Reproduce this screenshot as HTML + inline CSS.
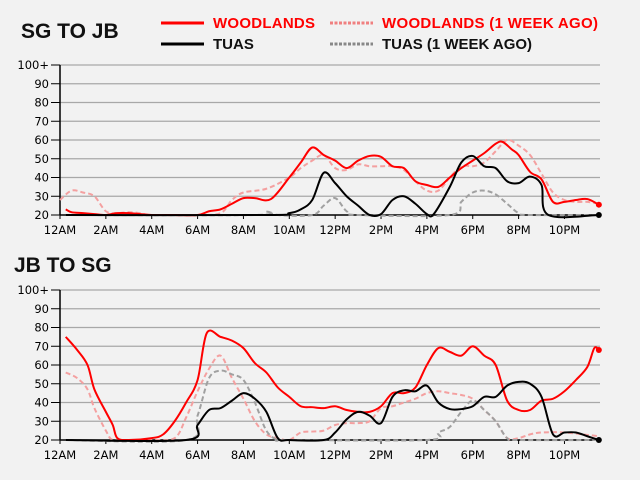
<!DOCTYPE html>
<html><head><meta charset="utf-8"><style>
html,body{margin:0;padding:0;background:#f2f2f2;}
svg{display:block;}
text{font-family:"DejaVu Sans",sans-serif;}
.t{font-family:"Liberation Sans",sans-serif;font-weight:bold;}
</style></head><body>
<svg id="s" width="640" height="480" xmlns="http://www.w3.org/2000/svg">
<rect width="640" height="480" fill="#f2f2f2"/>
<text class="t" x="21" y="38" font-size="21" fill="#111">SG TO JB</text>
<text class="t" x="14" y="272" font-size="21" fill="#111">JB TO SG</text>
<line x1="161" y1="23" x2="204" y2="23" stroke="#f00" stroke-width="3"/>
<text class="t" x="213" y="28" font-size="15" fill="#f00" textLength="102">WOODLANDS</text>
<line x1="330" y1="23" x2="373" y2="23" stroke="#f08080" stroke-width="3" stroke-dasharray="3,1.5"/>
<text class="t" x="382" y="28" font-size="15" fill="#f00" textLength="216">WOODLANDS (1 WEEK AGO)</text>
<line x1="161" y1="44" x2="204" y2="44" stroke="#000" stroke-width="3"/>
<text class="t" x="213" y="49" font-size="15" fill="#111">TUAS</text>
<line x1="330" y1="44" x2="373" y2="44" stroke="#888" stroke-width="3" stroke-dasharray="3,1.5"/>
<text class="t" x="382" y="49" font-size="15" fill="#111" textLength="150">TUAS (1 WEEK AGO)</text>
<g id="g"></g>
</svg>
<script>
var NS="http://www.w3.org/2000/svg",g=document.getElementById("g");
function el(n,a,t){var e=document.createElementNS(NS,n);for(var k in a)e.setAttribute(k,a[k]);if(t)e.textContent=t;g.appendChild(e);return e;}
function X(h){return 60+22.93*h;}
function chart(off,series){
 function Y(v){return off-1.875*(v-20);}
 for(var v=30;v<=100;v+=10) el("line",{x1:60,x2:600,y1:Y(v),y2:Y(v),stroke:"#a8a8a8","stroke-width":1.2});
 for(var v=20;v<=100;v+=10){el("line",{x1:51,x2:60,y1:Y(v),y2:Y(v),stroke:"#000"});el("text",{x:49,y:Y(v)+4,"font-size":11.5,"text-anchor":"end",fill:"#000"},v==100?"100+":""+v);}
 var labs=["12AM","2AM","4AM","6AM","8AM","10AM","12PM","2PM","4PM","6PM","8PM","10PM"];
 for(var i=0;i<12;i++){el("line",{x1:X(i*2),x2:X(i*2),y1:off,y2:off+4,stroke:"#000"});el("text",{x:X(i*2),y:off+19,"font-size":11.5,"text-anchor":"middle",fill:"#000"},labs[i]);}
 el("line",{x1:60,x2:60,y1:Y(100),y2:off,stroke:"#000","stroke-width":1.5});
 el("line",{x1:60,x2:600,y1:off,y2:off,stroke:"#000","stroke-width":1.5});
 series.forEach(function(s){
  var p=s.d.map(function(q){return [X(q[0]),Y(q[1])];});
  var d="M"+p[0][0]+","+p[0][1];
  for(var i=0;i<p.length-1;i++){var p0=p[Math.max(0,i-1)],p1=p[i],p2=p[i+1],p3=p[Math.min(p.length-1,i+2)];
   d+=" C"+(p1[0]+(p2[0]-p0[0])/6)+","+(p1[1]+(p2[1]-p0[1])/6)+" "+(p2[0]-(p3[0]-p1[0])/6)+","+(p2[1]-(p3[1]-p1[1])/6)+" "+p2[0]+","+p2[1];}
  var a={d:d,fill:"none",stroke:s.c,"stroke-width":2};if(s.dash)a["stroke-dasharray"]="5,3";
  el("path",a);
  if(s.dot){var l=p[p.length-1];el("circle",{cx:l[0],cy:l[1],r:3,fill:s.c});}
 });
}
chart(215,[
{c:"#f4a0a0",dash:1,d:[[0,28],[0.5,33],[1,32],[1.5,30],[2,22],[2.5,21],[3,21.5],[3.5,21],[4,20],[6,20],[7,21],[7.5,28],[8,32],[9,34],[10,40],[10.5,45],[11,49],[11.5,52],[12,45],[12.5,44],[13,47],[13.5,46],[14,46],[14.5,46],[15,44],[15.5,38],[16,33],[16.5,33],[17,40],[17.5,46],[18,46],[18.5,48],[19,54],[19.5,60],[20,57],[20.5,52],[21,42],[21.5,32],[22,28],[22.5,27],[23,27],[23.5,26]]},
{c:"#a0a0a0",dash:1,d:[[0.25,20],[8.5,20],[9,22],[9.5,20],[11,20],[11.5,25],[12,29],[12.5,22],[13,20],[17,20],[17.5,27],[18,32],[18.5,33],[19,31],[19.5,26],[20,21],[20.5,20],[23.5,20]]},
{c:"#f00",dot:1,d:[[0.25,23],[0.5,21.5],[1,21],[1.5,20.5],[2,20],[2.5,21],[3,21],[3.5,20.5],[4,20],[5,20],[6,20],[6.5,22],[7,23],[7.5,26],[8,29],[8.5,29],[9.2,28.5],[10,40],[10.5,48],[11,56],[11.5,52],[12,49],[12.5,45],[13,49],[13.5,51.5],[14,51],[14.5,46],[15,45],[15.5,38],[16,36],[16.5,35],[17,40],[17.5,45],[18,49],[18.5,53],[19,58],[19.3,59],[19.7,55],[20,52],[20.5,43],[21,39],[21.5,27],[22,27],[22.5,28],[23,28.5],[23.5,25.5]]},
{c:"#000",dot:1,d:[[0.25,20],[9,20],[10,21],[10.5,23],[11,28],[11.5,42.5],[12,37],[12.5,30],[13,25],[13.5,20],[14,20.5],[14.5,28],[15,30],[15.5,26],[16,20.5],[16.3,20.5],[17,35],[17.5,48],[18,51.5],[18.5,46],[19,45],[19.5,38],[20,37],[20.5,40.5],[21,36],[21.3,20],[23.5,20]]}
]);
chart(440,[
{c:"#f4a0a0",dash:1,d:[[0.25,56],[0.75,53],[1.2,47],[1.5,37],[2,25],[2.3,20],[3,20],[4,20],[5,21],[5.5,32],[6,46],[6.5,58],[7,65],[7.5,53],[8,42],[8.5,30],[9,23],[9.5,21],[10,20],[10.5,24],[11,24.5],[11.5,25],[12,28],[12.5,29],[13,29],[13.5,30],[14,37],[14.5,38],[15,40],[15.5,42],[16,45],[16.5,46],[17,45],[17.5,44],[18,42],[18.5,36],[19,30],[19.5,21],[20,21],[20.5,23],[21,24],[22,24],[23.5,22]]},
{c:"#a0a0a0",dash:1,d:[[0.25,20],[5.5,20],[6,33],[6.5,53],[7,57],[7.5,55],[8,52],[8.5,40],[9,25],[9.5,20],[10,20],[16,20],[16.5,24],[17,27],[17.5,35],[18,41],[18.5,36],[19,30],[19.5,21],[20,20],[23.5,20]]},
{c:"#f00",dot:1,d:[[0.25,75],[0.75,68],[1.2,60],[1.5,47],[2,35],[2.3,28],[2.5,21],[3,20],[4,21],[4.5,23],[5,30],[5.5,40],[6,52],[6.4,77],[7,75],[7.5,73],[8,69],[8.5,61],[9,56],[9.5,48],[10,43],[10.5,38],[11,37.5],[11.5,37],[12,38],[12.5,36],[13,35],[13.5,35],[14,38],[14.5,45],[15,45],[15.5,48],[16,60],[16.5,69],[17,67],[17.5,65],[18,70],[18.5,65],[19,60],[19.5,41],[20,36],[20.5,36],[21,41],[21.5,42],[22,46],[22.5,52],[23,59],[23.3,69],[23.5,68]]},
{c:"#000",dot:1,d:[[0.25,20],[5.5,20],[6,28],[6.5,36],[7,37],[7.5,41],[8,45],[8.5,42],[9,35],[9.5,21],[10,20],[11.5,20],[12,24],[12.5,31],[13,35],[13.5,33],[14,29],[14.5,43],[15,46.5],[15.5,46],[16,49],[16.5,40],[17,36.5],[17.5,36.5],[18,38],[18.5,43],[19,43],[19.5,49],[20,51],[20.5,50],[21,43],[21.5,23],[22,24],[22.5,24],[23,22],[23.5,20]]}
]);
</script>
</body></html>
